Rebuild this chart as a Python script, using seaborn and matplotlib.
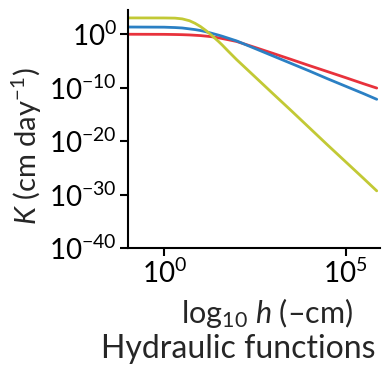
import numpy as np
import pandas as pd
import matplotlib
matplotlib.use("Agg")
import matplotlib.pyplot as plt
import seaborn as sns

# log10 of suction head h (-cm) and log10 of K (cm/day)
log_h = [-1.0, 0.0, 0.3, 0.5, 0.7, 0.85, 1.0, 1.15, 1.3, 1.5, 1.6, 1.75, 2.0,
         2.5, 3.0, 3.5, 4.0, 4.5, 5.0, 5.5, 5.86]
log_k_red = [-0.05, -0.07, -0.1, -0.13, -0.18, -0.24, -0.3, -0.4, -0.5, -0.72,
             -0.85, -1.05, -1.4, -2.5, -3.62, -4.75, -5.9, -7.02, -8.15, -9.3, -10.1]
log_k_blue = [1.3, 1.27, 1.2, 1.12, 0.95, 0.82, 0.65, 0.42, 0.15, -0.22,
              -0.42, -0.75, -1.3, -2.7, -4.1, -5.5, -6.9, -8.35, -9.75, -11.15, -12.2]
log_k_olive = [3.0, 2.99, 2.96, 2.82, 2.47, 2.0, 1.4, 0.65, -0.2, -1.4,
               -2.05, -3.1, -4.8, -7.97, -11.15, -14.3, -17.5, -20.7, -23.85, -27.0, -29.3]

series_names = ["red", "blue", "olive"]
colors = {"red": "#e8323c", "blue": "#2b80c4", "olive": "#c2c935"}

h = np.power(10.0, log_h)
df = pd.concat([
    pd.DataFrame({"h": h, "K": np.power(10.0, v), "soil": name})
    for name, v in zip(series_names, [log_k_red, log_k_blue, log_k_olive])
])

sns.set_style("ticks")
plt.rcParams["font.family"] = ["Lato", "DejaVu Sans"]
plt.rcParams["mathtext.fontset"] = "custom"
plt.rcParams["mathtext.rm"] = "Lato"
plt.rcParams["mathtext.it"] = "Lato:italic"
plt.rcParams["mathtext.bf"] = "Lato:bold"

fig = plt.figure(figsize=(3.85, 3.66), dpi=100)
ax = fig.add_axes([0.332, 0.322, 0.655, 0.651])

sns.lineplot(data=df, x="h", y="K", hue="soil", palette=colors,
             hue_order=series_names, linewidth=2.0, legend=False, ax=ax)

ax.set_xscale("log")
ax.set_yscale("log")
ax.set_xlim(10**-1.0, 10**5.95)
ax.set_ylim(1e-40, 10**4.5)
ax.set_xticks([1e0, 1e5])
ax.set_xticklabels([r"$10^{0}$", r"$10^{5}$"])
ax.set_yticks([1e-40, 1e-30, 1e-20, 1e-10, 1e0])
ax.set_yticklabels([r"$10^{-40}$", r"$10^{-30}$", r"$10^{-20}$", r"$10^{-10}$", r"$10^{0}$"])
ax.minorticks_off()
ax.tick_params(axis="both", labelsize=20, length=6, width=1.5, color="black",
               labelcolor="black", pad=2)
for s in ["top", "right"]:
    ax.spines[s].set_visible(False)
for s in ["left", "bottom"]:
    ax.spines[s].set_linewidth(1.5)
    ax.spines[s].set_color("black")
ax.set_xlabel("")
ax.set_ylabel("")

fig.text(0.07, 0.60, r"$K$ (cm day$^{-1}$)", rotation=90, fontsize=21,
         ha="center", va="center")
fig.text(0.695, 0.145, r"log$_{10}$ $h$ (–cm)", fontsize=22, ha="center", va="center")
fig.text(0.62, 0.046, "Hydraulic functions", fontsize=23, ha="center", va="center")

fig.savefig("out.png", dpi=100)
